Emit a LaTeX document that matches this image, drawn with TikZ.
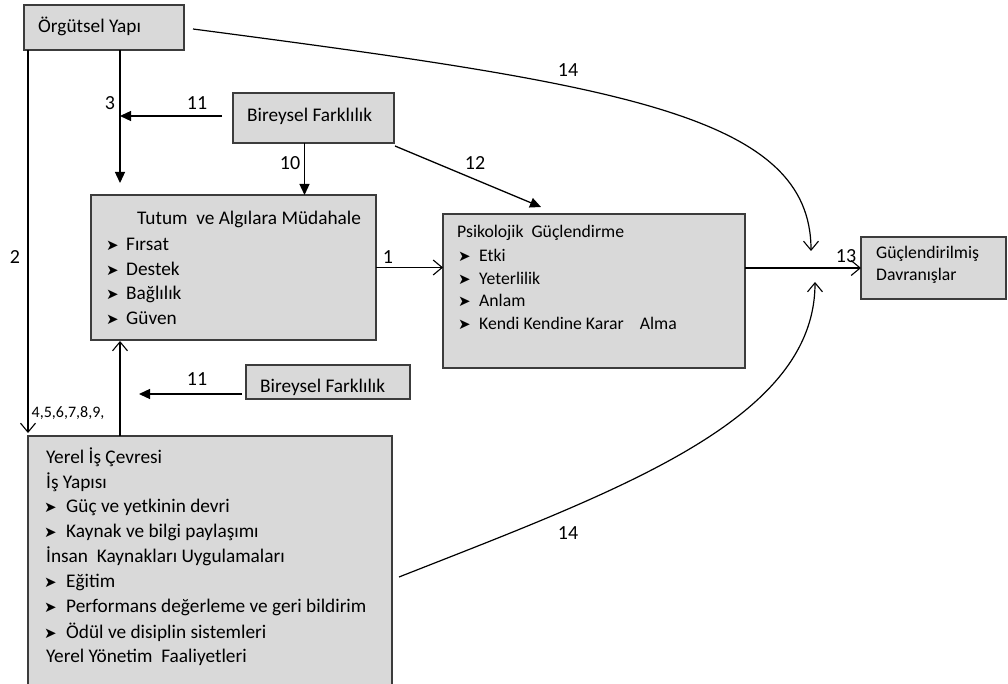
\documentclass[tikz,border=0pt]{standalone}
\usepackage{fontspec}
\setmainfont{Carlito}
\newfontfamily\symfont{DejaVu Sans}
\usetikzlibrary{arrows.meta}
\definecolor{boxfill}{HTML}{D9D9D9}
\definecolor{boxline}{HTML}{3C3C3C}
% bullet item: arrowhead bullet in a box of width #1, then the text #2
\newcommand{\bitem}[2]{\makebox[#1][l]{\raisebox{0pt}{\symfont\fontsize{15}{15}\selectfont ➤}}#2}
\begin{document}
\begin{tikzpicture}[x=1pt,y=-1pt,
  box/.style={draw=boxline, line width=1.4pt, fill=boxfill, inner sep=0pt, outer sep=0pt},
  txt/.style={anchor=base west, inner sep=0pt, font=\fontsize{19.3}{22}\selectfont},
  txtsm/.style={anchor=base west, inner sep=0pt, font=\fontsize{17.7}{21}\selectfont},
  lbl/.style={inner sep=0pt, font=\fontsize{20}{20}\selectfont},
  solidhead/.style={-{Triangle[length=11pt,width=10pt]}, line width=1.3pt},
  openhead/.style={-{Straight Barb[length=9pt,width=15pt,line width=1.1pt]}, line width=1.2pt}]
\clip (0,0) rectangle (1008,684);
\fill[white] (0,0) rectangle (1008,684);

% boxes
\node[box, minimum width=160pt, minimum height=45pt] (org) at (104,27.5) {};
\node[box, minimum width=161pt, minimum height=50pt] (bf1) at (313.5,118) {};
\node[box, minimum width=285pt, minimum height=145pt] (tut) at (233.5,267.5) {};
\node[box, minimum width=302pt, minimum height=154pt] (psy) at (594,291) {};
\node[box, minimum width=145pt, minimum height=62pt] (gd) at (933.5,268) {};
\node[box, minimum width=164pt, minimum height=34pt] (bf2) at (328,382) {};
\node[box, minimum width=364pt, minimum height=264pt] (yer) at (210,568) {};

% box texts
\node[txt] (torg) at (38,32.5) {Örgütsel Yapı};
\node[txt] (tbf1) at (247,121.5) {Bireysel Farklılık};
\node[txt] (tbf2) at (260,392.5) {Bireysel Farklılık};

\node[txt] (tut0) at (137,224.5) {Tutum\ \ ve Algılara Müdahale};
\node[txt] (tut1) at (106,250.5) {\bitem{20pt}{Fırsat}};
\node[txt] (tut2) at (106,275.5) {\bitem{20pt}{Destek}};
\node[txt] (tut3) at (106,299.5) {\bitem{20pt}{Bağlılık}};
\node[txt] (tut4) at (106,324.5) {\bitem{20pt}{Güven}};

\node[txtsm] (psy0) at (457,237.5) {Psikolojik\ \ Güçlendirme};
\node[txtsm] (psy1) at (458,261.5) {\bitem{21pt}{Etki}};
\node[txtsm] (psy2) at (458,284) {\bitem{21pt}{Yeterlilik}};
\node[txtsm] (psy3) at (458,306.5) {\bitem{21pt}{Anlam}};
\node[txtsm] (psy4) at (458,329) {\bitem{21pt}{Kendi Kendine Karar\ \ \ \ Alma}};

\node[txtsm] (gd0) at (876,258.5) {Güçlendirilmiş};
\node[txtsm] (gd1) at (876,281) {Davranışlar};

\node[txt] (yer0) at (46,463.5) {Yerel İş Çevresi};
\node[txt] (yer1) at (46,488.5) {İş Yapısı};
\node[txt] (yer2) at (44,512.5) {\bitem{22pt}{Güç ve yetkinin devri}};
\node[txt] (yer3) at (44,537.5) {\bitem{22pt}{Kaynak ve bilgi paylaşımı}};
\node[txt] (yer4) at (46,562.5) {İnsan\ \ Kaynakları Uygulamaları};
\node[txt] (yer5) at (44,587.5) {\bitem{22pt}{Eğitim}};
\node[txt] (yer6) at (44,612.5) {\bitem{22pt}{Performans değerleme ve geri bildirim}};
\node[txt] (yer7) at (44,638) {\bitem{22pt}{Ödül ve disiplin sistemleri}};
\node[txt] (yer8) at (46,662.5) {Yerel Yönetim\ \ Faaliyetleri};

% free arrow ends
\coordinate (e3) at (120,183);
\coordinate (e11a) at (120,116);
\coordinate (e12) at (541,207);
\coordinate (e14a) at (811,251);
\coordinate (e14b) at (815,282);
\coordinate (e11b) at (139,394);

% connectors
\draw[openhead] ([xshift=4pt]org.south west) -- ([yshift=3pt]yer.north west);
\draw[solidhead] ([xshift=16pt]org.south) -- (e3);
\draw[solidhead] ([xshift=-11pt,yshift=2pt]bf1.west) -- (e11a);
\draw[solidhead] ([xshift=-9pt]bf1.south) -- ([xshift=71pt]tut.north);
\draw[solidhead] ([xshift=1pt,yshift=-3pt]bf1.south east) -- (e12);
\draw[openhead] (tut.east) -- (tut.east -| psy.west);
\draw[openhead] (psy.east |- gd.west) -- (gd.west);
\draw[openhead] ([xshift=92pt]yer.north west) -- ([xshift=29pt,yshift=-1pt]tut.south west);
\draw[solidhead] ([xshift=-4pt,yshift=5pt]bf2.south west) -- (e11b);
\draw[openhead] ([xshift=9pt,yshift=-1.5pt]org.east) .. controls (620,85) and (811,115) .. (e14a);
\draw[openhead] ([xshift=7pt,yshift=-9pt]yer.east) .. controls (620,490) and (815,420) .. (e14b);

% connector labels
\node[lbl] (l2) at (15,257) {2};
\node[lbl] (l3) at (110,103) {3};
\node[lbl] (l11a) at (197,103) {11};
\node[lbl] (l10) at (290,163) {10};
\node[lbl] (l12) at (475,163) {12};
\node[lbl] (l1) at (388,257) {1};
\node[lbl] (l13) at (846,256) {13};
\node[lbl] (l14a) at (568,70) {14};
\node[lbl] (l14b) at (568,533) {14};
\node[lbl] (l11b) at (197,379) {11};
\node[lbl, font=\fontsize{16}{16}\selectfont] (l49) at (68,413) {4,5,6,7,8,9,};
\end{tikzpicture}
\end{document}
